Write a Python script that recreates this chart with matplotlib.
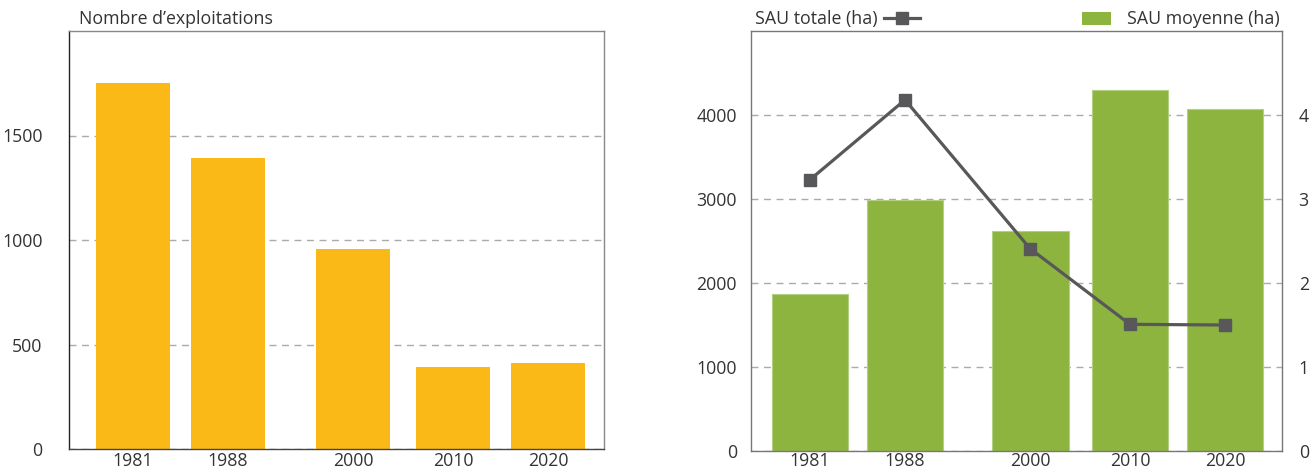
import matplotlib
matplotlib.use("Agg")
import matplotlib.pyplot as plt
from matplotlib.lines import Line2D
from matplotlib.patches import Patch

# ---- data ----
years = ["1981", "1988", "2000", "2010", "2020"]
nb_exploitations = [1752, 1390, 957, 390, 410]
sau_totale = [3230, 4180, 2410, 1508, 1500]
sau_moyenne = [1.87, 2.99, 2.62, 4.30, 4.07]

# layout (category slot positions along x)
xpos = [0, 1, 2.316, 3.368, 4.368]

plt.rcParams['font.family'] = ['Open Sans', 'DejaVu Sans']
TXT = '#333333'
GRID = '#aaaaaa'
FS = 12.8

fig = plt.figure(figsize=(13.14, 4.72), dpi=100)

# ---------- left chart ----------
axL = fig.add_axes([69/1314, 1-449/472, (604-69)/1314, (449-31)/472])
axL.bar(xpos, nb_exploitations, width=0.78, color='#fbb918', zorder=2)
axL.set_xlim(-0.674, 4.958)
axL.set_ylim(0, 2000)
axL.set_yticks([0, 500, 1000, 1500])
axL.set_xticks(xpos)
axL.set_xticklabels(years)
axL.grid(axis='y', color=GRID, linestyle=(0, (5, 4)), linewidth=1, zorder=0)
axL.tick_params(axis='both', length=0, labelsize=FS, colors=TXT)
axL.tick_params(axis='y', pad=19)
axL.tick_params(axis='x', pad=2)
axL.spines['left'].set_color('#222222')
axL.spines['bottom'].set_color('#444444')
axL.spines['top'].set_color('#888888')
axL.spines['right'].set_color('#888888')
for s in axL.spines.values():
    s.set_linewidth(1)
fig.text(79/1314, 1-19/472, "Nombre d\u2019exploitations", fontsize=FS,
         color=TXT, va='center', ha='left')

# ---------- right chart ----------
axR = fig.add_axes([751/1314, 1-451/472, (1282-751)/1314, (451-31)/472])
axT = axR.twinx()

# bars (SAU moyenne) on right-hand axis
axR.bar(xpos, sau_moyenne, width=0.81, color='#8db43f', edgecolor='#b3cf84',
        linewidth=0.8, zorder=2)
axR.set_ylim(0, 5)
axR.set_yticks([0, 1, 2, 3, 4])
axR.yaxis.tick_right()
axR.yaxis.set_label_position('right')
axR.set_xlim(-0.621, 4.968)
axR.set_xticks(xpos)
axR.set_xticklabels(years)
axR.grid(axis='y', color=GRID, linestyle=(0, (5, 4)), linewidth=1, zorder=0)
axR.tick_params(axis='both', length=0, labelsize=FS, colors=TXT)
axR.tick_params(axis='y', pad=12)
axR.tick_params(axis='x', pad=1)
for s in axR.spines.values():
    s.set_color('#777777')
    s.set_linewidth(1)

# line (SAU totale) on left-hand axis
axT.yaxis.tick_left()
axT.yaxis.set_label_position('left')
axT.plot(xpos, sau_totale, color='#58585a', linewidth=2.3, marker='s',
         markersize=9, zorder=3)
axT.set_ylim(0, 5000)
axT.set_yticks([0, 1000, 2000, 3000, 4000])
axT.tick_params(axis='both', length=0, labelsize=FS, colors=TXT)
axT.tick_params(axis='y', pad=10)
for s in axT.spines.values():
    s.set_visible(False)

h_line = Line2D([], [], color='#58585a', linewidth=2.3, marker='s', markersize=9)
leg1 = axT.legend([h_line], ["SAU totale (ha)"], loc='lower left',
                  bbox_to_anchor=(-0.01, 0.985), frameon=False, markerfirst=False,
                  fontsize=FS, handlelength=2.0, handletextpad=0.4,
                  borderaxespad=0.1, labelcolor=TXT)
axT.add_artist(leg1)
h_bar = Patch(facecolor='#8db43f')
axT.legend([h_bar], ["SAU moyenne (ha)"], loc='lower right',
           bbox_to_anchor=(1.012, 0.985), frameon=False, fontsize=FS,
           handlelength=1.6, handleheight=0.75, handletextpad=0.9,
           borderaxespad=0.1, labelcolor=TXT)

fig.savefig("out.png", dpi=100)
